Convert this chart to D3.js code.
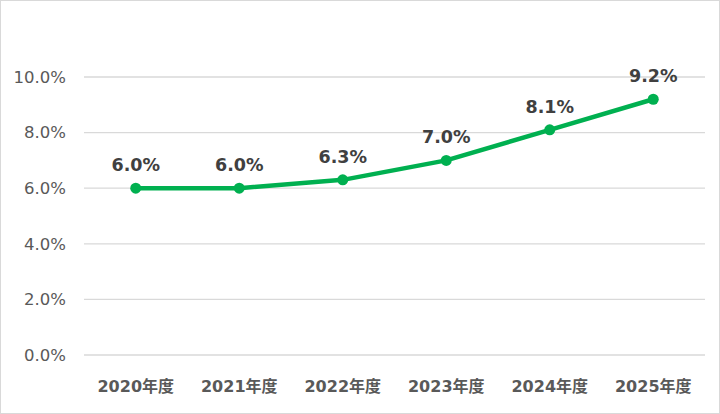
<!DOCTYPE html>
<html>
<head>
<meta charset="utf-8">
<script src="https://cdn.jsdelivr.net/npm/d3@7"></script>
<style>
  body { margin: 0; background: #fff; }
</style>
</head>
<body>
<div id="chart"></div>
<script>
// data
const years = ["2020年度", "2021年度", "2022年度", "2023年度", "2024年度", "2025年度"]
const rates = [6.0, 6.0, 6.3, 7.0, 8.1, 9.2]
const yTicks = [0, 2, 4, 6, 8, 10]

const width = 720
const height = 414
const plotLeft = 84, plotRight = 705, plotTop = 77, plotBottom = 355
const lineColor = "#00b050"

const svg = d3.select("#chart").append("svg")
  .attr("width", width)
  .attr("height", height)
  .style("font-family", "'DejaVu Sans', Verdana, sans-serif")

// outer frame
svg.append("rect")
  .attr("x", 0.5).attr("y", 0.5)
  .attr("width", width - 1).attr("height", height - 1)
  .attr("fill", "#fff")
  .attr("stroke", "#d9d9d9")

const x = d3.scaleBand()
  .domain(years)
  .range([plotLeft, plotRight])

const y = d3.scaleLinear()
  .domain([0, 10])
  .range([plotBottom, plotTop])

// gridlines
svg.append("g")
  .selectAll("line")
  .data(yTicks)
  .enter()
  .append("line")
  .attr("x1", plotLeft).attr("x2", plotRight)
  .attr("y1", d => y(d)).attr("y2", d => y(d))
  .attr("stroke", "#d9d9d9")
  .attr("stroke-width", 1.3)

// y axis labels
const yAxis = svg.append("g")
  .attr("transform", "translate(" + (plotLeft - 15) + ",0)")
  .call(d3.axisLeft(y).tickValues(yTicks).tickSize(0).tickFormat(d => d.toFixed(1) + "%"))
yAxis.select(".domain").remove()
yAxis.selectAll("text")
  .attr("font-size", 16.5)
  .attr("fill", "#595959")
  .attr("font-family", "'DejaVu Sans', Verdana, sans-serif")

// x axis labels
const xAxis = svg.append("g")
  .attr("transform", "translate(0," + (plotBottom + 23) + ")")
  .call(d3.axisBottom(x).tickSize(0))
xAxis.select(".domain").remove()
xAxis.selectAll("text")
  .attr("font-size", 16)
  .attr("font-weight", "bold")
  .attr("fill", "#595959")
  .attr("font-family", "'DejaVu Sans', 'Noto Sans CJK JP', sans-serif")

const cx = d => x(d) + x.bandwidth() / 2

// line
const pts = years.map((d, i) => [cx(d), y(rates[i])])
svg.append("path")
  .attr("d", d3.line()(pts))
  .attr("fill", "none")
  .attr("stroke", lineColor)
  .attr("stroke-width", 4.5)
  .attr("stroke-linejoin", "round")

// markers
svg.append("g")
  .selectAll("circle")
  .data(years)
  .enter()
  .append("circle")
  .attr("cx", d => cx(d))
  .attr("cy", (d, i) => y(rates[i]))
  .attr("r", 5.5)
  .attr("fill", lineColor)

// data labels
svg.append("g")
  .selectAll("text")
  .data(years)
  .enter()
  .append("text")
  .attr("x", d => cx(d))
  .attr("y", (d, i) => y(rates[i]) - 17)
  .attr("text-anchor", "middle")
  .attr("font-size", 17.5)
  .attr("font-weight", "bold")
  .attr("fill", "#404040")
  .text((d, i) => rates[i].toFixed(1) + "%")
</script>
</body>
</html>
